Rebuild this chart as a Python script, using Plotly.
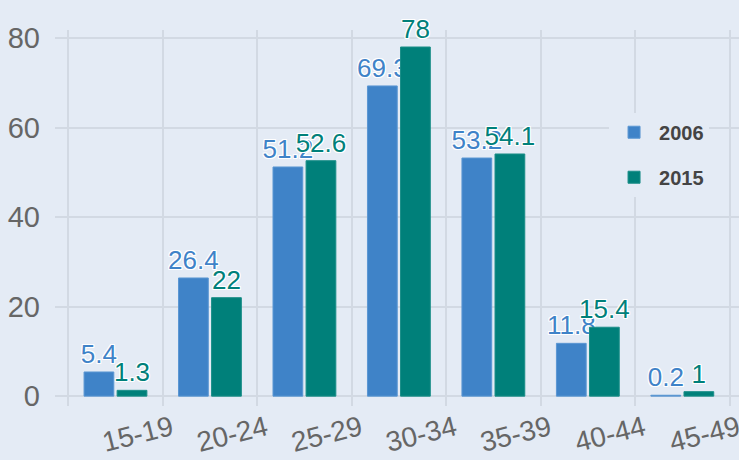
import plotly.graph_objects as go

categories = ["15-19", "20-24", "25-29", "30-34", "35-39", "40-44", "45-49"]
values_2006 = [5.4, 26.4, 51.2, 69.3, 53.2, 11.8, 0.2]
values_2015 = [1.3, 22, 52.6, 78, 54.1, 15.4, 1]
y_ticks = [0, 20, 40, 60, 80]

BLUE = "#3f83c8"
TEAL = "#00807a"
BG = "#e4ebf5"
GRID = "#d2d9e3"
FONT = "Liberation Sans, Arial, sans-serif"
OUTLINE = ("-1px -1px 0 #fff, 1px -1px 0 #fff, -1px 1px 0 #fff, 1px 1px 0 #fff, "
           "0 -1px 0 #fff, 0 1px 0 #fff, -1px 0 0 #fff, 1px 0 0 #fff")

fig = go.Figure()
fig.add_trace(go.Bar(
    x=categories, y=values_2006, name="2006",
    marker=dict(color=BLUE, line=dict(width=1, color="#5b97d3")),
    text=[f"{v:g}" for v in values_2006], textposition="outside",
    textfont=dict(color=BLUE, size=26, family=FONT, shadow=OUTLINE),
    cliponaxis=False, legendgroup="a",
))
fig.add_trace(go.Bar(
    x=categories, y=values_2015, name="2015",
    marker=dict(color=TEAL, line=dict(width=1, color="#1a8e88")),
    text=[f"{v:g}" for v in values_2015], textposition="outside",
    textfont=dict(color=TEAL, size=26, family=FONT, shadow=OUTLINE),
    cliponaxis=False, legendgroup="b",
))

fig.update_layout(
    width=739, height=460,
    margin=dict(l=55, r=0, t=30, b=54),
    paper_bgcolor=BG, plot_bgcolor=BG,
    barmode="group", bargap=0.3, bargroupgap=0.1,
    font=dict(family=FONT, color="#666666"),
    uniformtext=dict(mode="show", minsize=26),
    legend=dict(
        x=0.81, y=0.78, xanchor="left", yanchor="top",
        bgcolor=BG, font=dict(size=20, color="#444444", weight="bold"),
        traceorder="grouped", tracegroupgap=16, itemwidth=40,
    ),
    xaxis=dict(
        type="category", range=[-0.64, 6.6], tickson="boundaries",
        showgrid=True, gridcolor=GRID, gridwidth=2, ticks="",
        tickangle=-14, ticklabelshift=56, automargin=False,
        tickfont=dict(size=28, color="#666666"), zeroline=False,
    ),
    yaxis=dict(
        range=[-2.2, 81.8], tickvals=y_ticks, showgrid=True, gridcolor=GRID,
        gridwidth=2, zeroline=False, ticks="", ticklabelstandoff=14,
        tickfont=dict(size=29, color="#666666"),
    ),
)

fig.write_html("out.html", config={"displayModeBar": False},
               post_script="document.body.style.margin='0';")
